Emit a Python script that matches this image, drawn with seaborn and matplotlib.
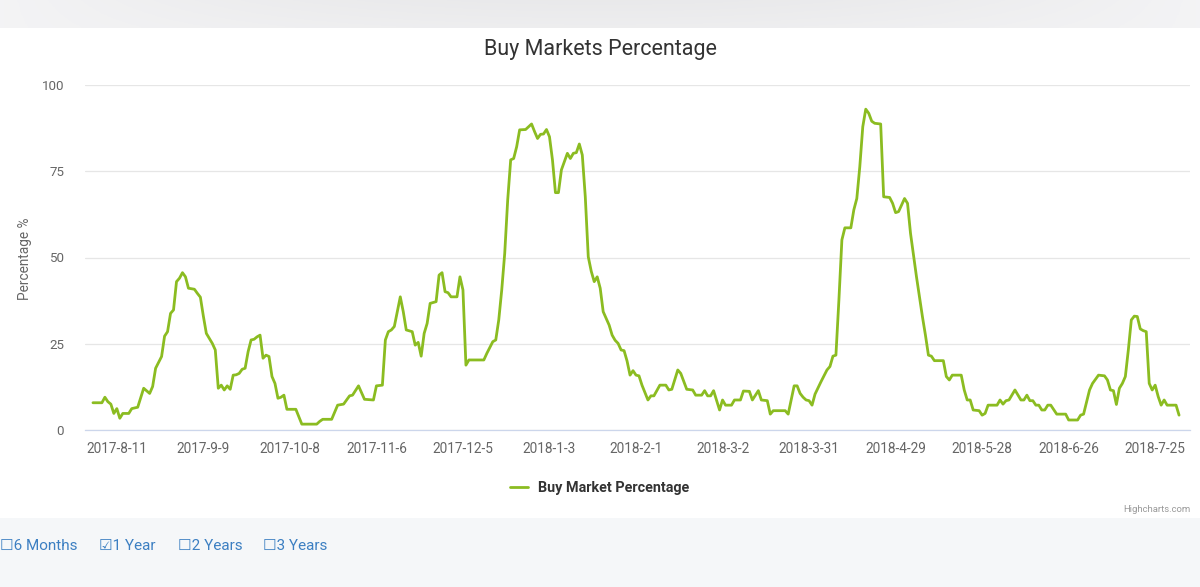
import numpy as np
import pandas as pd
import matplotlib
matplotlib.use("Agg")
import matplotlib.pyplot as plt
import seaborn as sns
from matplotlib.patches import Rectangle

# ---------------- data ----------------
dates = [
    "2017-08-03", "2017-08-06", "2017-08-07", "2017-08-08", "2017-08-09", "2017-08-10", "2017-08-11",
    "2017-08-12", "2017-08-13", "2017-08-15", "2017-08-16", "2017-08-18", "2017-08-20", "2017-08-22",
    "2017-08-23", "2017-08-24", "2017-08-26", "2017-08-27", "2017-08-28", "2017-08-29", "2017-08-30",
    "2017-08-31", "2017-09-01", "2017-09-02", "2017-09-03", "2017-09-04", "2017-09-06", "2017-09-07",
    "2017-09-08", "2017-09-09", "2017-09-10", "2017-09-12", "2017-09-13", "2017-09-14", "2017-09-15",
    "2017-09-16", "2017-09-17", "2017-09-18", "2017-09-19", "2017-09-20", "2017-09-21", "2017-09-22",
    "2017-09-23", "2017-09-24", "2017-09-25", "2017-09-26", "2017-09-27", "2017-09-28", "2017-09-29",
    "2017-09-30", "2017-10-01", "2017-10-02", "2017-10-03", "2017-10-04", "2017-10-05", "2017-10-06",
    "2017-10-07", "2017-10-10", "2017-10-12", "2017-10-17", "2017-10-18", "2017-10-19", "2017-10-22",
    "2017-10-24", "2017-10-26", "2017-10-28", "2017-10-29", "2017-10-31", "2017-11-02", "2017-11-05",
    "2017-11-06", "2017-11-08", "2017-11-09", "2017-11-10", "2017-11-11", "2017-11-12", "2017-11-14",
    "2017-11-15", "2017-11-16", "2017-11-18", "2017-11-19", "2017-11-20", "2017-11-21", "2017-11-22",
    "2017-11-23", "2017-11-24", "2017-11-26", "2017-11-27", "2017-11-28", "2017-11-29", "2017-11-30",
    "2017-12-01", "2017-12-03", "2017-12-04", "2017-12-05", "2017-12-06", "2017-12-07", "2017-12-12",
    "2017-12-13", "2017-12-15", "2017-12-16", "2017-12-17", "2017-12-18", "2017-12-19", "2017-12-20",
    "2017-12-21", "2017-12-22", "2017-12-23", "2017-12-24", "2017-12-26", "2017-12-28", "2017-12-29",
    "2017-12-30", "2017-12-31", "2018-01-01", "2018-01-02", "2018-01-03", "2018-01-04", "2018-01-05",
    "2018-01-06", "2018-01-07", "2018-01-09", "2018-01-10", "2018-01-11", "2018-01-12", "2018-01-13",
    "2018-01-14", "2018-01-15", "2018-01-16", "2018-01-17", "2018-01-18", "2018-01-19", "2018-01-20",
    "2018-01-21", "2018-01-23", "2018-01-24", "2018-01-25", "2018-01-26", "2018-01-27", "2018-01-28",
    "2018-01-29", "2018-01-30", "2018-01-31", "2018-02-01", "2018-02-02", "2018-02-03", "2018-02-05",
    "2018-02-06", "2018-02-07", "2018-02-09", "2018-02-11", "2018-02-12", "2018-02-13", "2018-02-15",
    "2018-02-16", "2018-02-18", "2018-02-20", "2018-02-21", "2018-02-23", "2018-02-24", "2018-02-25",
    "2018-02-26", "2018-02-27", "2018-03-01", "2018-03-02", "2018-03-03", "2018-03-05", "2018-03-06",
    "2018-03-08", "2018-03-09", "2018-03-11", "2018-03-12", "2018-03-14", "2018-03-15", "2018-03-16",
    "2018-03-17", "2018-03-18", "2018-03-19", "2018-03-23", "2018-03-24", "2018-03-26", "2018-03-27",
    "2018-03-28", "2018-03-29", "2018-03-30", "2018-03-31", "2018-04-01", "2018-04-02", "2018-04-04",
    "2018-04-06", "2018-04-07", "2018-04-08", "2018-04-09", "2018-04-10", "2018-04-11", "2018-04-12",
    "2018-04-14", "2018-04-15", "2018-04-16", "2018-04-17", "2018-04-18", "2018-04-19", "2018-04-20",
    "2018-04-21", "2018-04-22", "2018-04-24", "2018-04-25", "2018-04-27", "2018-04-28", "2018-04-29",
    "2018-04-30", "2018-05-02", "2018-05-03", "2018-05-04", "2018-05-06", "2018-05-08", "2018-05-09",
    "2018-05-10", "2018-05-11", "2018-05-12", "2018-05-15", "2018-05-16", "2018-05-17", "2018-05-18",
    "2018-05-21", "2018-05-22", "2018-05-23", "2018-05-24", "2018-05-25", "2018-05-27", "2018-05-28",
    "2018-05-29", "2018-05-30", "2018-06-02", "2018-06-03", "2018-06-04", "2018-06-05", "2018-06-06",
    "2018-06-08", "2018-06-10", "2018-06-11", "2018-06-12", "2018-06-13", "2018-06-14", "2018-06-15",
    "2018-06-16", "2018-06-17", "2018-06-18", "2018-06-19", "2018-06-20", "2018-06-22", "2018-06-25",
    "2018-06-26", "2018-06-29", "2018-06-30", "2018-07-01", "2018-07-03", "2018-07-04", "2018-07-06",
    "2018-07-08", "2018-07-09", "2018-07-10", "2018-07-11", "2018-07-12", "2018-07-13", "2018-07-14",
    "2018-07-15", "2018-07-16", "2018-07-17", "2018-07-18", "2018-07-19", "2018-07-20", "2018-07-21",
    "2018-07-22", "2018-07-23", "2018-07-24", "2018-07-25", "2018-07-26", "2018-07-27", "2018-07-28",
    "2018-07-29", "2018-08-01", "2018-08-02",
]

buy_pct = [
    7.9, 7.9, 9.5, 8.2, 7.5, 4.8, 6.2,
    3.4, 4.8, 4.8, 6.2, 6.6, 12.1, 10.6,
    12.6, 17.9, 21.3, 27.2, 28.5, 33.8, 34.8,
    43.0, 44.0, 45.6, 44.4, 41.1, 40.8, 39.6,
    38.5, 33.0, 28.0, 25.1, 23.2, 12.1, 13.0,
    11.6, 12.8, 11.8, 15.9, 16.0, 16.4, 17.6,
    17.9, 22.7, 26.1, 26.3, 27.0, 27.5, 20.8,
    21.7, 21.3, 15.5, 13.5, 9.2, 9.5, 10.1,
    6.0, 6.0, 1.7, 1.7, 2.5, 3.1, 3.1,
    7.2, 7.5, 9.9, 10.1, 12.8, 8.9, 8.7,
    12.8, 13.0, 26.1, 28.5, 29.0, 30.0, 38.6,
    34.3, 29.0, 28.5, 24.6, 25.4, 21.4, 28.0,
    30.9, 36.7, 37.2, 44.9, 45.6, 40.1, 39.8,
    38.6, 38.6, 44.4, 40.6, 18.8, 20.3, 20.3,
    22.2, 25.6, 26.1, 31.9, 40.6, 51.2, 66.7,
    78.3, 78.7, 82.1, 87.0, 87.1, 88.7, 86.5,
    84.5, 85.7, 85.8, 87.1, 85.0, 78.3, 68.8,
    68.8, 75.4, 80.2, 78.7, 80.2, 80.4, 82.9,
    79.7, 67.6, 50.2, 46.0, 43.0, 44.4, 41.1,
    34.3, 30.4, 27.5, 26.0, 25.1, 23.2, 23.0,
    20.0, 15.9, 17.2, 15.9, 15.7, 13.0, 8.7,
    9.9, 9.9, 13.0, 13.0, 11.6, 11.8, 17.4,
    16.4, 11.8, 11.6, 10.1, 10.1, 11.4, 9.9,
    9.9, 11.4, 5.8, 8.7, 7.2, 7.2, 8.7,
    8.7, 11.3, 11.2, 8.7, 11.4, 8.7, 8.6,
    8.5, 4.6, 5.6, 5.6, 4.6, 12.8, 12.8,
    10.6, 9.5, 8.7, 8.5, 7.2, 10.4, 14.0,
    17.4, 18.4, 21.4, 21.7, 37.7, 55.1, 58.6,
    58.6, 63.8, 67.1, 76.3, 87.9, 93.0, 91.8,
    89.5, 88.9, 88.7, 67.6, 67.4, 65.7, 63.0,
    63.3, 67.1, 65.7, 57.0, 44.4, 32.8, 27.5,
    21.7, 21.4, 20.1, 20.1, 15.5, 14.5, 15.9,
    15.9, 11.6, 8.7, 8.7, 5.8, 5.6, 4.3,
    4.8, 7.2, 7.2, 8.7, 7.5, 8.5, 8.7,
    11.6, 8.7, 8.7, 10.1, 8.5, 8.5, 7.2,
    7.2, 5.8, 5.8, 7.2, 7.2, 4.6, 4.6,
    2.9, 2.9, 4.3, 4.6, 11.6, 13.5, 15.9,
    15.7, 14.5, 11.6, 11.4, 7.4, 12.1, 13.5,
    15.5, 23.2, 31.9, 33.0, 32.9, 29.3, 28.8,
    28.5, 13.5, 11.6, 13.0, 9.7, 7.2, 8.7,
    7.2, 7.2, 4.3,
]

x_tick_dates = ["2017-08-11", "2017-09-09", "2017-10-08", "2017-11-06", "2017-12-05",
                "2018-01-03", "2018-02-01", "2018-03-02", "2018-03-31", "2018-04-29",
                "2018-05-28", "2018-06-26", "2018-07-25"]
x_tick_labels = ["2017-8-11", "2017-9-9", "2017-10-8", "2017-11-6", "2017-12-5",
                 "2018-1-3", "2018-2-1", "2018-3-2", "2018-3-31", "2018-4-29",
                 "2018-5-28", "2018-6-26", "2018-7-25"]
y_ticks = [0, 25, 50, 75, 100]

title = "Buy Markets Percentage"
series_name = "Buy Market Percentage"
y_label = "Percentage %"
range_options = ["6 Months", "1 Year", "2 Years", "3 Years"]
range_checked = [False, True, False, False]

# ---------------- style ----------------
sns.set_style("white")
plt.rcParams["font.family"] = ["Roboto", "DejaVu Sans"]

W, H = 1200, 587
fig = plt.figure(figsize=(W / 100, H / 100), dpi=100)
fig.patch.set_facecolor("white")

def fx(px):
    return px / W

def fy(py):
    return 1 - py / H

# top grey strip with soft gradient
strip = fig.add_axes([0, fy(28), 1, 28 / H])
gx = np.linspace(-1, 1, 300)
gy = np.linspace(0, 1, 20)
GX, GY = np.meshgrid(gx, gy)
shade = 0.955 - 0.04 * (1 - GX ** 2) * (0.6 + 0.4 * GY)
strip.imshow(np.dstack([shade, shade, shade + 0.006]).clip(0, 1), aspect="auto",
             extent=[0, 1, 0, 1], origin="lower")
strip.axis("off")

# bottom light panel
fig.patches.append(Rectangle((0, 0), 1, fy(518), transform=fig.transFigure,
                             facecolor="#f5f7f9", edgecolor="none", zorder=0))

# ---------------- chart ----------------
df = pd.DataFrame({"date": pd.to_datetime(dates), "value": buy_pct})

ax = fig.add_axes([fx(85), fy(430), fx(1190) - fx(85), fy(85) - fy(430)])
ax.set_facecolor("none")
sns.lineplot(data=df, x="date", y="value", ax=ax, color="#8bbc21", linewidth=2.0,
             label=series_name)

ax.set_ylim(0, 100)
ax.set_xlim(pd.Timestamp("2017-07-31 08:00"), pd.Timestamp("2018-08-05 16:00"))
ax.set_yticks(y_ticks)
ax.set_yticklabels([str(v) for v in y_ticks])
ax.set_xticks(pd.to_datetime(x_tick_dates))
ax.set_xticklabels(x_tick_labels)

ax.grid(axis="y", color="#e6e6e6", linewidth=0.9)
ax.grid(axis="x", visible=False)
ax.set_axisbelow(True)
for s in ["top", "right", "left"]:
    ax.spines[s].set_visible(False)
ax.spines["bottom"].set_color("#ccd6eb")
ax.spines["bottom"].set_linewidth(0.9)

ax.tick_params(axis="y", length=0, pad=15, labelsize=9.6, labelcolor="#666666")
ax.tick_params(axis="x", length=7.2, width=0.9, color="#ccd6eb", pad=1.5,
               labelsize=9.8, labelcolor="#666666", direction="out")
ax.set_xlabel("")
ax.set_ylabel("")

leg = ax.legend(loc="center", bbox_to_anchor=(0.5, fy(488)), bbox_transform=fig.transFigure,
                frameon=False, handlelength=1.25, handletextpad=0.7,
                prop={"weight": "bold", "size": 10.4})
for t in leg.get_texts():
    t.set_color("#333333")

# ---------------- texts ----------------
fig.text(0.5, fy(50), title, ha="center", va="center", fontsize=15.5, color="#333333")
fig.text(fx(25), fy(259), y_label, ha="center", va="center", rotation=90,
         fontsize=9.8, color="#666666")
fig.text(fx(1190), fy(510), "Highcharts.com", ha="right", va="center",
         fontsize=6.8, color="#999999")

opt_x = [0, 99, 178, 263]
for xpos, name, chk in zip(opt_x, range_options, range_checked):
    box = "\u2611" if chk else "\u2610"
    fig.text(fx(xpos), fy(546), box + name, ha="left", va="center", fontsize=11,
             color="#3c7fc2", family=["Roboto", "DejaVu Sans"])

fig.savefig("out.png", dpi=100)
